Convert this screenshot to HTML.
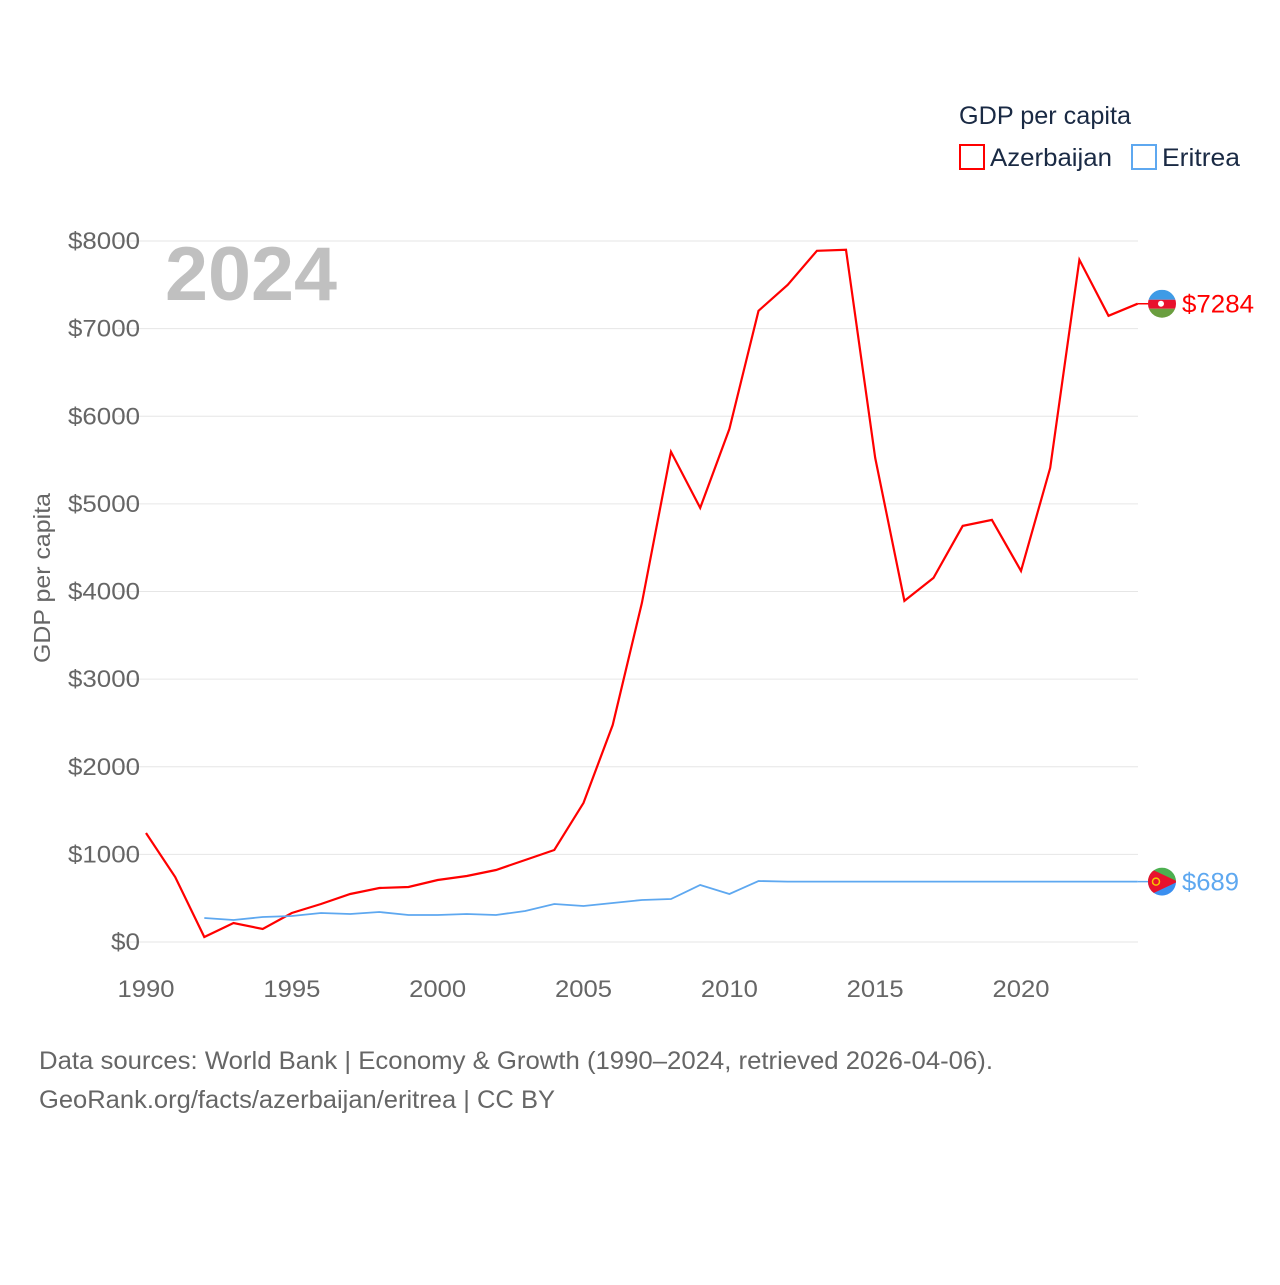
<!DOCTYPE html>
<html><head><meta charset="utf-8"><style>
body{margin:0;background:#fff;}
svg text{font-family:"Liberation Sans",sans-serif;}
</style></head><body>
<svg id="chart" width="1280" height="1280" xmlns="http://www.w3.org/2000/svg">
<rect width="1280" height="1280" fill="#fff"/>
<g id="grid"></g><g id="yticks"></g><g id="xticks"></g>
<text x="165" y="300" font-size="76" font-weight="bold" fill="#c0c0c0" textLength="172" lengthAdjust="spacingAndGlyphs">2024</text>
<text transform="translate(50,578) rotate(-90)" text-anchor="middle" font-size="23" fill="#666" textLength="170" lengthAdjust="spacingAndGlyphs">GDP per capita</text>
<text x="959" y="124" font-size="25" fill="#1a2a44" textLength="172" lengthAdjust="spacingAndGlyphs">GDP per capita</text>
<rect x="960" y="145" width="24" height="24" fill="none" stroke="#f00" stroke-width="2"/>
<text x="990" y="166" font-size="25" fill="#1a2a44" textLength="122" lengthAdjust="spacingAndGlyphs">Azerbaijan</text>
<rect x="1132" y="145" width="24" height="24" fill="none" stroke="#5ea8f0" stroke-width="2"/>
<text x="1162" y="166" font-size="25" fill="#1a2a44" textLength="78" lengthAdjust="spacingAndGlyphs">Eritrea</text>
<g id="series"></g>
<text x="39" y="1069" font-size="25" fill="#666" textLength="954" lengthAdjust="spacingAndGlyphs">Data sources: World Bank | Economy &amp; Growth (1990–2024, retrieved 2026-04-06).</text>
<text x="39" y="1108" font-size="25" fill="#666" textLength="516" lengthAdjust="spacingAndGlyphs">GeoRank.org/facts/azerbaijan/eritrea | CC BY</text>
</svg>
<script>
const years=[1990,1991,1992,1993,1994,1995,1996,1997,1998,1999,2000,2001,2002,2003,2004,2005,2006,2007,2008,2009,2010,2011,2012,2013,2014,2015,2016,2017,2018,2019,2020,2021,2022,2023,2024];
const azerbaijan=[1244,742,57,217,148,331,434,548,616,628,708,753,822,936,1050,1587,2477,3870,5594,4954,5856,7203,7500,7888,7900,5525,3893,4155,4749,4817,4235,5411,7785,7146,7284];
const eritrea=[null,null,274,251,285,297,331,320,342,308,308,320,308,354,434,411,445,479,491,651,548,696,689,689,689,689,689,689,689,689,689,689,689,689,689];
const yTicks=[0,1000,2000,3000,4000,5000,6000,7000,8000];
const xTicks=[1990,1995,2000,2005,2010,2015,2020];
const NS="http://www.w3.org/2000/svg";
const x=v=>146+(v-1990)*(1137.7-146)/34;
const y=v=>942-v*(942-241)/8000;
function mk(t,a,p){const e=document.createElementNS(NS,t);for(const k in a)e.setAttribute(k,a[k]);p.appendChild(e);return e;}
const grid=document.getElementById('grid'),yt=document.getElementById('yticks'),xt=document.getElementById('xticks'),s=document.getElementById('series');
yTicks.forEach(v=>{
 const l=mk('line',{x1:118,x2:1138,y1:y(v),y2:y(v),stroke:'#e6e6e6','stroke-width':1},grid);
 
 
 const lab='$'+v;
 const t=mk('text',{x:140,y:y(v)+8,'text-anchor':'end','font-size':24,fill:'#666',textLength:(lab.length*14.3).toFixed(0),lengthAdjust:'spacingAndGlyphs'},yt);
 t.textContent=lab;
 
 
});
xTicks.forEach(v=>{
 const t=mk('text',{x:x(v),y:997,'text-anchor':'middle','font-size':24,fill:'#666',textLength:57,lengthAdjust:'spacingAndGlyphs'},xt);
 t.textContent=v;
 
 
});
function line(vals,color,name){
 let d='';vals.forEach((v,i)=>{if(v==null)return;d+=(d?'L':'M')+x(years[i]).toFixed(1)+','+y(v).toFixed(1);});
 const p=mk('path',{d:d,fill:'none',stroke:color,'stroke-width':name==='azerbaijan-line'?2.2:1.8},s);
 
 
}
line(azerbaijan,'#f00','azerbaijan-line');
line(eritrea,'#5ea8f0','eritrea-line');
function endLabel(val,color,name,flag){
 const yy=y(val);
 mk('line',{x1:x(2024),x2:1150,y1:yy,y2:yy,stroke:color,'stroke-width':1.5},s);
 const g=mk('g',{},s);
 
 
 const cid='c'+name;
 const cp=mk('clipPath',{id:cid},g);mk('circle',{cx:1162,cy:yy,r:14},cp);
 const gg=mk('g',{'clip-path':'url(#'+cid+')'},g);
 if(flag==='az'){
  mk('rect',{x:1148,y:yy-14,width:28,height:10,fill:'#3e9be6'},gg);
  mk('rect',{x:1148,y:yy-4,width:28,height:9,fill:'#e8112d'},gg);
  mk('rect',{x:1148,y:yy+5,width:28,height:10,fill:'#6a9e3f'},gg);
  mk('circle',{cx:1161,cy:yy,r:3,fill:'#fff'},gg);
 }else{
  mk('rect',{x:1148,y:yy-14,width:28,height:14,fill:'#4caf50'},gg);
  mk('rect',{x:1148,y:yy,width:28,height:14,fill:'#3a8ff0'},gg);
  mk('polygon',{points:`1148,${yy-14} 1178,${yy} 1148,${yy+14}`,fill:'#e8112d'},gg);
  mk('circle',{cx:1156,cy:yy,r:3.5,fill:'none',stroke:'#f5c400','stroke-width':1.5},gg);
 }
 const lab='$'+val;
 const t=mk('text',{x:1182,y:yy+9,'font-size':25,fill:color,textLength:(lab.length*14.3).toFixed(0),lengthAdjust:'spacingAndGlyphs'},s);
 t.textContent=lab;
 
 
}
endLabel(azerbaijan[azerbaijan.length-1],'#f00','azerbaijan','az');
endLabel(eritrea[eritrea.length-1],'#5ea8f0','eritrea','er');
</script>
</body></html>
